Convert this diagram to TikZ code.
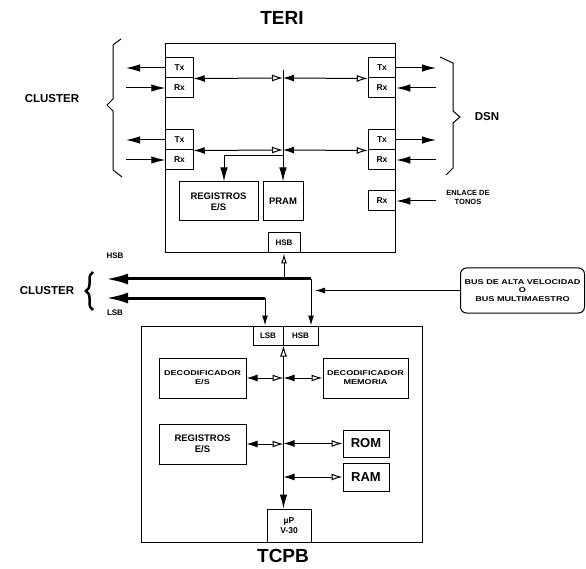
\documentclass[tikz,border=0pt]{standalone}
\usepackage{fontspec}
\setmainfont{Liberation Sans}
\newfontfamily\widesans[FakeStretch=1.3]{Liberation Sans}
\usetikzlibrary{arrows.meta,decorations.pathreplacing}

\newcommand*{\busx}{283}
\newcommand*{\lx}{179.5}
\newcommand*{\rx}{382}

\begin{document}
\begin{tikzpicture}
[
	x=1pt, y=-1pt,
	font=\bfseries,
	box/.style={draw,line width=1pt,inner sep=0pt,align=center},
	trx/.style={box,minimum width=27.5pt,minimum height=20pt,font=\fontsize{8.5}{9}\bfseries},
	arr/.style={line width=1pt,-{Latex[length=14pt,width=7.5pt]}},
	sarr/.style={line width=1pt,-{Latex[length=10pt,width=6pt]}},
	dbl/.style={line width=1pt,{Latex[length=11pt,width=7pt]}-{Latex[open,length=11pt,width=7pt]}},
	bigarr/.style={line width=3pt,-{Latex[length=22pt,width=11pt]}}
]

	\useasboundingbox (0,0) rectangle (586,569);

	% titles
	\node[font=\fontsize{19}{21}\bfseries] (teriname) at (282,18) {TERI};
	\node[font=\fontsize{19}{21}\bfseries] (tcpbname) at (283,556) {TCPB};

	% TERI
	\node[box,minimum width=230pt,minimum height=209pt] (teri) at (280,148.5) {};
	\coordinate (cl) at (126,0);
	\coordinate (cr) at (436,0);
	\foreach \n/\y in {1/68,2/140} {
		\node[trx] (txl\n) at (\lx,\y) {Tx};
		\node[trx] (rxl\n) at (\lx,\y+20) {Rx};
		\node[trx] (txr\n) at (\rx,\y) {Tx};
		\node[trx] (rxr\n) at (\rx,\y+20) {Rx};
		\coordinate (j\n) at (\busx,\y+10);
		\draw[dbl] (txl\n.south east) -- (j\n);
		\draw[dbl] (j\n) -- (txr\n.south west);
		\draw[arr] (txl\n.west) -- (txl\n.west -| cl);
		\draw[arr] (rxl\n.west -| cl) -- (rxl\n.west);
		\draw[arr] (txr\n.east) -- (txr\n.east -| cr);
		\draw[arr] (rxr\n.east -| cr) -- (rxr\n.east);
	}

	\node[box,minimum width=79pt,minimum height=39pt,font=\fontsize{9.5}{11}\bfseries] (regt) at (218.5,201.5) {REGISTROS\\E/S};
	\node[box,minimum width=40pt,minimum height=39pt,font=\fontsize{9.5}{11}\bfseries] (pram) at (283,201.5) {PRAM};
	\node[box,minimum width=32pt,minimum height=20pt,font=\fontsize{8}{9}\bfseries] (hsbt) at (284,243) {HSB};

	% internal bus
	\coordinate (bustop) at (\busx,70);
	\coordinate (br) at (\busx,156);
	\draw[arr] (bustop) -- (pram.north);
	\draw[arr] (br) -| ([xshift=5.5pt]regt.north);

	% tone link
	\node[trx] (rxe) at (\rx,201) {Rx};
	\draw[arr] (rxe.east -| cr) -- (rxe.east);
	\node[align=center,font=\fontsize{7.5}{9}\bfseries] (enlace) at (468,197) {ENLACE DE\\TONOS};

	% brackets
	\draw[line width=1pt] (121,39) -- (113,45) -- (113,99) -- (107,105) -- (113,111) -- (113,170) -- (122,177);
	\draw[line width=1pt] (440,57) -- (453,63) -- (453,111) -- (460,117) -- (453,123) -- (453,168) -- (446,175);
	\node[font=\fontsize{11.5}{13}\bfseries] (clustert) at (52,99) {CLUSTER};
	\node[font=\fontsize{11.5}{13}\bfseries] (dsn) at (487,117) {DSN};

	% TCPB
	\node[box,minimum width=281pt,minimum height=216pt] (tcpb) at (281.5,434) {};
	\node[box,minimum width=30pt,minimum height=19pt,font=\fontsize{8}{9}\bfseries] (lsbb) at (268,335.5) {LSB};
	\node[box,minimum width=35pt,minimum height=19pt,font=\fontsize{8}{9}\bfseries] (hsbb) at (300.5,335.5) {HSB};
	\node[box,minimum width=87pt,minimum height=40pt,font=\widesans\fontsize{7}{9}\bfseries] (dece) at (202.5,378) {DECODIFICADOR\\E/S};
	\node[box,minimum width=85pt,minimum height=40pt,font=\widesans\fontsize{7}{9}\bfseries] (decm) at (365.5,378) {DECODIFICADOR\\MEMORIA};
	\node[box,minimum width=87pt,minimum height=40pt,font=\fontsize{9.5}{11}\bfseries] (regb) at (202.5,444) {REGISTROS\\E/S};
	\node[box,minimum width=46pt,minimum height=27pt,font=\fontsize{13}{15}\bfseries] (rom) at (366,443.5) {ROM};
	\node[box,minimum width=46pt,minimum height=28pt,font=\fontsize{13}{15}\bfseries] (ram) at (366,477) {RAM};
	\node[box,minimum width=44pt,minimum height=33pt,font=\fontsize{8.5}{10}\bfseries] (mup) at (289,525.5) {µP\\V-30};

	% processor bus
	\coordinate (bb) at (lsbb.south east);
	\draw[line width=1pt,{Latex[open,length=11pt,width=7pt]}-{Latex[length=14pt,width=7.5pt]}] (bb) -- (bb |- mup.north);
	\draw[dbl] (dece.east) -- (dece.east -| bb);
	\draw[dbl] (decm.west -| bb) -- (decm.west);
	\draw[dbl] (regb.east) -- (regb.east -| bb);
	\draw[dbl] (rom.west -| bb) -- (rom.west);
	\draw[dbl] (ram.west -| bb) -- (ram.west);

	% external buses
	\node[box,rounded corners=6pt,minimum width=124pt,minimum height=45pt,font=\widesans\fontsize{7}{8.5}\bfseries] (busav) at (522.5,290.5) {BUS DE ALTA VELOCIDAD\\O\\BUS MULTIMAESTRO};
	\coordinate (hsbj) at (311,279);
	\coordinate (lsbj) at (265,298);
	\coordinate (cb) at (106,0);
	\draw[bigarr] (hsbj) -- (hsbj -| cb);
	\draw[bigarr] (lsbj) -- (lsbj -| cb);
	\draw[line width=1pt,-{Latex[open,length=10pt,width=6pt]}] (hsbt.south |- hsbj) -- (hsbt.south);
	\draw[sarr] (hsbj) -- (hsbj |- hsbb.north);
	\draw[sarr] (lsbj) -- (lsbj |- lsbb.north);
	\draw[sarr] (busav.west) -- ([xshift=4pt]busav.west -| hsbj);

	\node[font=\fontsize{8}{9}\bfseries] (hsbl) at (115,256) {HSB};
	\node[font=\fontsize{8}{9}\bfseries] (lsbl) at (115,313) {LSB};
	\node[font=\fontsize{11.5}{13}\bfseries] (clusterb) at (47,291) {CLUSTER};
	\draw[line width=2.5pt,decorate,decoration={brace,amplitude=7pt}] (93,310) -- (93,272);

\end{tikzpicture}
\end{document}
